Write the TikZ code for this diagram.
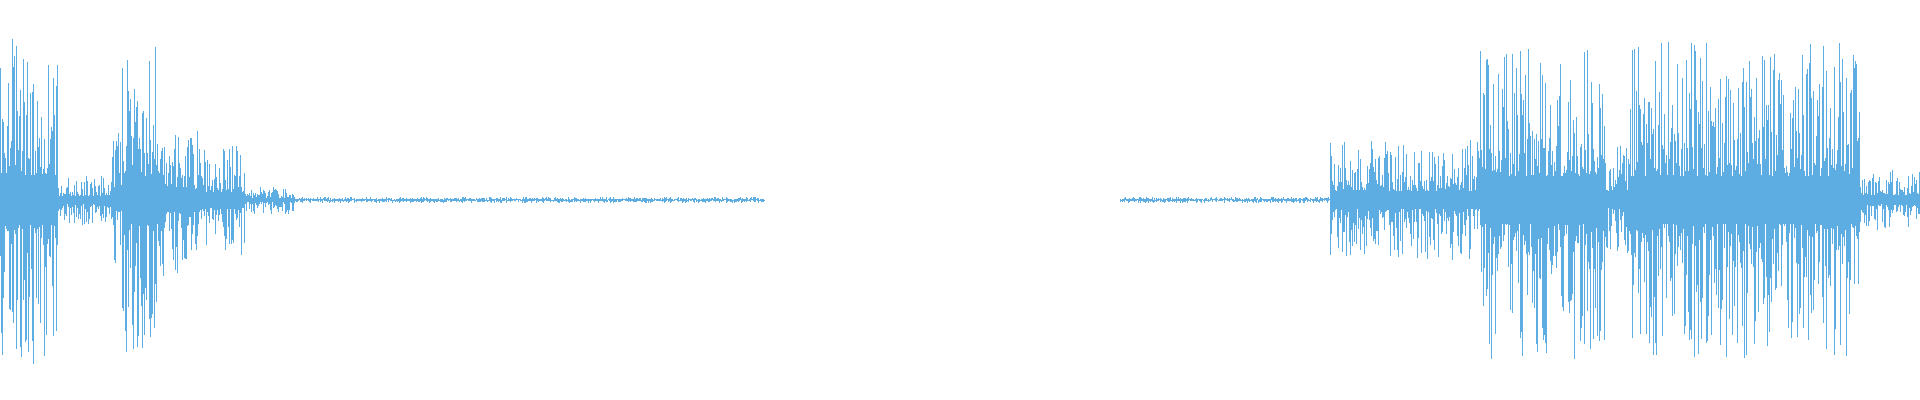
\documentclass[tikz,border=0pt]{standalone}
\definecolor{wave}{HTML}{5DADE2}
\begin{document}
\begin{tikzpicture}[x=0.5pt,y=0.5pt,wv/.style={draw=wave,line width=0.35pt}]
\useasboundingbox (0,0) rectangle (1920,400);
\pgfmathsetseed{7}
\foreach \s/\e/\A in {0/58/165,58/112/25,112/122/70,122/165/160,165/200/75,200/245/55,245/294/14,294/765/3,1120/1330/3,1330/1480/60,1480/1605/160,1605/1630/55,1630/1860/160,1860/1920/30}{
  \pgfmathsetmacro{\nx}{\s+0.8}
  \foreach \x in {\s,\nx,...,\e}{
    \pgfmathsetmacro{\a}{\A*(0.15+0.85*rnd^2)}
    \pgfmathsetmacro{\b}{\A*(0.15+0.85*rnd^2)}
    \draw[wv] (\x,200-\b) -- (\x,200+\a);
  }
}
\end{tikzpicture}
\end{document}
